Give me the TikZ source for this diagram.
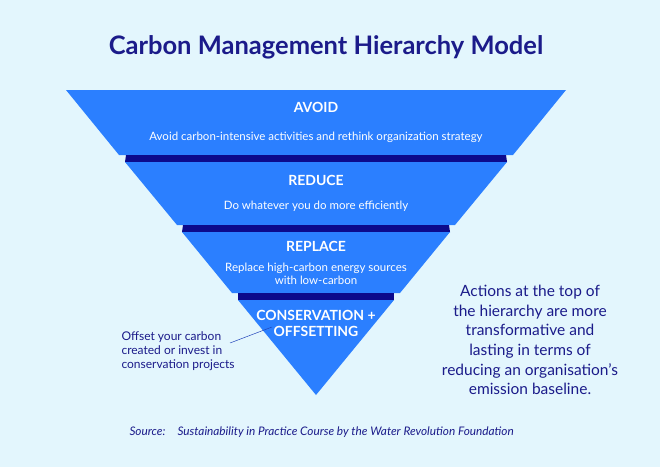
\documentclass[tikz,border=0pt]{standalone}
\usepackage{fontspec}
\setmainfont{Lato}
\usepackage{xcolor}
\definecolor{bgsky}{RGB}{227,246,253}
\definecolor{layerblue}{RGB}{43,127,255}
\definecolor{banddark}{RGB}{12,10,140}
\definecolor{inknavy}{RGB}{27,27,138}
\tikzset{
  layer/.style={fill=layerblue},
  band/.style={fill=banddark},
  headtext/.style={text=white,font=\fontsize{14}{16}\selectfont\bfseries},
  subtext/.style={text=white,font=\fontsize{11.5}{14}\selectfont,align=center},
  sidetext/.style={text=inknavy,align=center}
}
\begin{document}
\begin{tikzpicture}[x=1pt,y=-1pt]
  % background
  \fill[bgsky] (0,0) rectangle (660,467);
  \useasboundingbox (0,0) rectangle (660,467);

  \node[text=inknavy,font=\fontsize{25.5}{28}\selectfont\bfseries] (title) at (326,47) {Carbon Management Hierarchy Model};

  % pyramid layers
  \fill[layer] (66,90) -- (566,90) -- (513,155) -- (119,155) -- cycle;
  \fill[band] (126,155) -- (506,155) -- (507,162) -- (125,162) -- cycle;
  \fill[layer] (125,162) -- (507,162) -- (455,225) -- (177,225) -- cycle;
  \fill[band] (183,225) -- (449,225) -- (450,232) -- (182,232) -- cycle;
  \fill[layer] (182,232) -- (450,232) -- (400,293) -- (232,293) -- cycle;
  \fill[band] (238,293) -- (394,293) -- (394,300) -- (238,300) -- cycle;
  \fill[layer] (238,300) -- (394,300) -- (316,395) -- cycle;

  % labels
  \node[headtext] (avoid) at (316,107) {AVOID};
  \node[subtext] (avoidsub) at (316,137) {Avoid carbon-intensive activities and rethink organization strategy};
  \node[headtext] (reduce) at (316,180) {REDUCE};
  \node[subtext] (reducesub) at (316,206) {Do whatever you do more efficiently};
  \node[headtext] (replace) at (316,246) {REPLACE};
  \node[subtext,font=\fontsize{11.5}{13}\selectfont] (replacesub) at (316,274) {Replace high-carbon energy sources\\with low-carbon};
  \node[headtext,align=center,font=\fontsize{14}{16}\selectfont\bfseries] (conserve) at (316,323) {CONSERVATION +\\OFFSETTING};

  \node[sidetext,align=left,anchor=west,font=\fontsize{12}{14.3}\selectfont] (offset) at (118,351) {Offset your carbon\\created or invest in\\conservation projects};
  \coordinate (leadend) at (272,327);
  \draw[inknavy!60!layerblue,line width=0.5pt] (230,343) -- (leadend);

  \node[sidetext,font=\fontsize{15.5}{19.6}\selectfont] (note) at (530,340) {Actions at the top of\\the hierarchy are more\\transformative and\\lasting in terms of\\reducing an organisation’s\\emission baseline.};

  \node[sidetext,anchor=west,font=\fontsize{11.8}{12}\selectfont\itshape] (source) at (126,432) {Source:\hspace{12pt}Sustainability in Practice Course by the Water Revolution Foundation};
\end{tikzpicture}
\end{document}
